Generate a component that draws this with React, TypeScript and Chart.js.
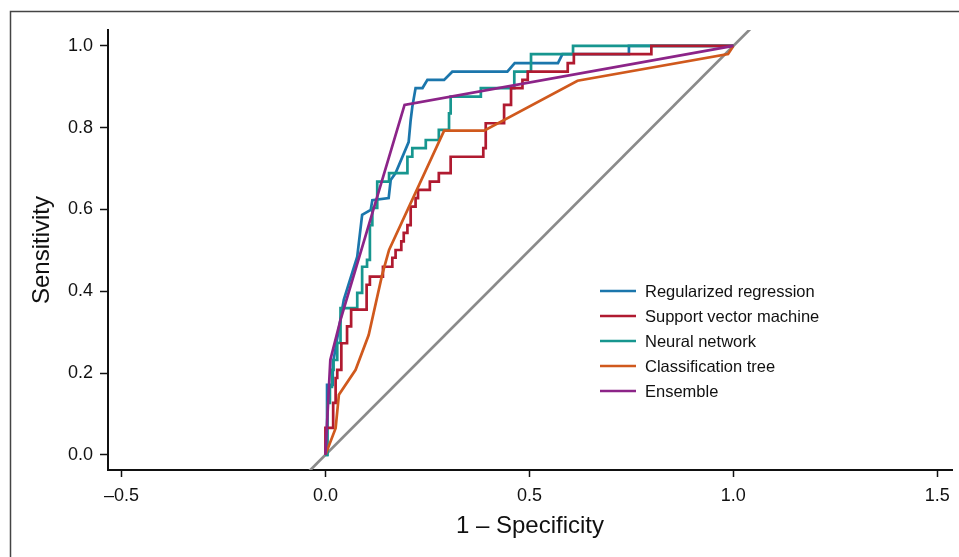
import React, { useEffect, useRef } from "react";
import { Chart, registerables } from "chart.js";

Chart.register(...registerables);

// Series names (legend order)
const seriesLabels = [
  "Regularized regression",
  "Support vector machine",
  "Neural network",
  "Classification tree",
  "Ensemble",
];
const seriesColors = ["#1b76ac", "#b01a30", "#17968f", "#d0591d", "#8c2488"];

// Regularized regression (corner points)
const regX = [0, 0.004, 0.004, 0.018, 0.018, 0.020, 0.045, 0.078, 0.090, 0.111, 0.115, 0.155, 0.160, 0.172, 0.204, 0.209, 0.213, 0.221, 0.238, 0.250, 0.291, 0.311, 0.446, 0.464, 0.570, 0.581, 0.744, 0.744, 1];
const regY = [0, 0, 0.171, 0.171, 0.232, 0.232, 0.379, 0.485, 0.587, 0.599, 0.623, 0.628, 0.672, 0.689, 0.765, 0.819, 0.851, 0.897, 0.897, 0.917, 0.917, 0.937, 0.937, 0.958, 0.958, 0.980, 0.980, 1, 1];

// Support vector machine (step points: x where sensitivity rises, sensitivity after rise)
const svmX = [0, 0, 0.019, 0.025, 0.029, 0.039, 0.053, 0.063, 0.101, 0.109, 0.141, 0.164, 0.172, 0.186, 0.192, 0.201, 0.209, 0.221, 0.227, 0.256, 0.278, 0.307, 0.387, 0.393, 0.438, 0.455, 0.483, 0.496, 0.594, 0.609, 0.799, 1];
const svmY = [0, 0.066, 0.127, 0.188, 0.208, 0.273, 0.314, 0.355, 0.416, 0.436, 0.460, 0.482, 0.501, 0.522, 0.543, 0.562, 0.607, 0.628, 0.648, 0.668, 0.689, 0.729, 0.750, 0.811, 0.856, 0.897, 0.917, 0.937, 0.958, 0.980, 1, 1];

// Neural network (step points)
const nnX = [0, 0.005, 0.011, 0.016, 0.020, 0.029, 0.037, 0.078, 0.090, 0.102, 0.109, 0.115, 0.127, 0.156, 0.201, 0.213, 0.246, 0.278, 0.303, 0.307, 0.381, 0.463, 0.504, 0.607, 1];
const nnY = [0, 0.127, 0.166, 0.208, 0.232, 0.274, 0.359, 0.396, 0.460, 0.477, 0.562, 0.604, 0.668, 0.689, 0.729, 0.750, 0.770, 0.795, 0.835, 0.876, 0.897, 0.937, 0.980, 1, 1];

// Classification tree
const treeX = [0, 0.025, 0.033, 0.074, 0.106, 0.139, 0.156, 0.291, 0.389, 0.618, 0.987, 1];
const treeY = [0, 0.065, 0.147, 0.208, 0.293, 0.440, 0.501, 0.793, 0.793, 0.915, 0.980, 1];

// Ensemble
const ensX = [0, 0.012, 0.037, 0.194, 1];
const ensY = [0, 0.232, 0.330, 0.856, 1];

// Reference diagonal
const diagX = [-0.1, 1.1];
const diagY = [-0.1, 1.1];

const xTicks = [-0.5, 0, 0.5, 1, 1.5];
const yTicks = [0, 0.2, 0.4, 0.6, 0.8, 1];
const xTitle = "1 – Specificity";
const yTitle = "Sensitivity";

const FONT = "'Liberation Sans', Arial, Helvetica, sans-serif";

function pts(xs: number[], ys: number[]) {
  return xs.map((x, i) => ({ x, y: ys[i] }));
}

function fmt(v: number) {
  const s = Math.abs(v).toFixed(1);
  return v < 0 ? "\u2013" + s : s;
}

export default function App() {
  const ref = useRef<HTMLCanvasElement>(null);

  useEffect(() => {
    document.body.style.margin = "0";
    const framePlugin = {
      id: "frame",
      beforeDraw(chart: any) {
        const ctx = chart.ctx;
        ctx.save();
        ctx.fillStyle = "#fff";
        ctx.fillRect(0, 0, chart.width, chart.height);
        ctx.strokeStyle = "#444";
        ctx.lineWidth = 1.5;
        ctx.beginPath();
        ctx.moveTo(10.5, chart.height);
        ctx.lineTo(10.5, 11.5);
        ctx.lineTo(chart.width, 11.5);
        ctx.stroke();
        ctx.restore();
      },
    };
    const legendPlugin = {
      id: "rocLegend",
      afterDatasetsDraw(chart: any) {
        const ctx = chart.ctx;
        ctx.save();
        seriesLabels.forEach((label, i) => {
          const y = 291 + i * 25;
          ctx.strokeStyle = seriesColors[i];
          ctx.lineWidth = 2.7;
          ctx.beginPath();
          ctx.moveTo(600, y);
          ctx.lineTo(636, y);
          ctx.stroke();
          ctx.fillStyle = "#111";
          ctx.font = `16.5px ${FONT}`;
          ctx.textBaseline = "middle";
          ctx.textAlign = "left";
          ctx.fillText(label, 645, y + 1);
        });
        ctx.restore();
      },
    };

    const common = { showLine: true, pointRadius: 0, borderWidth: 2.7, fill: false, tension: 0, borderJoinStyle: "miter" as const };
    const chart = new Chart(ref.current as HTMLCanvasElement, {
      type: "scatter",
      data: {
        datasets: [
          { ...common, label: seriesLabels[0], data: pts(regX, regY), borderColor: seriesColors[0], order: 4 },
          { ...common, label: seriesLabels[1], data: pts(svmX, svmY), borderColor: seriesColors[1], stepped: "before", order: 2 },
          { ...common, label: seriesLabels[2], data: pts(nnX, nnY), borderColor: seriesColors[2], stepped: "before", order: 3 },
          { ...common, label: seriesLabels[3], data: pts(treeX, treeY), borderColor: seriesColors[3], order: 1 },
          { ...common, label: seriesLabels[4], data: pts(ensX, ensY), borderColor: seriesColors[4], order: 0 },
          { ...common, label: "diagonal", data: pts(diagX, diagY), borderColor: "#8a8a8a", order: 5 },
        ] as any,
      },
      options: {
        animation: false,
        responsive: false,
        layout: { padding: { left: 0, right: 7, top: 30, bottom: 0 } },
        plugins: { legend: { display: false }, tooltip: { enabled: false } },
        scales: {
          x: {
            type: "linear",
            min: -0.533,
            max: 1.536,
            afterBuildTicks: (s: any) => {
              s.ticks = xTicks.map((v) => ({ value: v }));
            },
            afterFit: (s: any) => {
              s.height = 87;
            },
            grid: { drawOnChartArea: false, drawTicks: true, tickLength: 7, tickColor: "#111", tickWidth: 1.5 },
            border: { display: true, color: "#111", width: 2 },
            ticks: {
              color: "#111",
              font: { family: FONT, size: 18 },
              padding: 8,
              maxRotation: 0,
              autoSkip: false,
              callback: (v: any) => fmt(Number(v)),
            },
            title: {
              display: true,
              text: xTitle,
              color: "#111",
              font: { family: FONT, size: 24 },
              padding: { top: 0, bottom: 16 },
            },
          },
          y: {
            type: "linear",
            min: -0.037,
            max: 1.039,
            afterBuildTicks: (s: any) => {
              s.ticks = yTicks.map((v) => ({ value: v }));
            },
            afterFit: (s: any) => {
              s.width = 108;
            },
            grid: { drawOnChartArea: false, drawTicks: true, tickLength: 8, tickColor: "#111", tickWidth: 1.5 },
            border: { display: true, color: "#111", width: 2 },
            ticks: {
              color: "#111",
              font: { family: FONT, size: 18 },
              padding: 7,
              autoSkip: false,
              callback: (v: any) => fmt(Number(v)),
            },
            title: {
              display: true,
              text: yTitle,
              color: "#111",
              font: { family: FONT, size: 24 },
              padding: { top: 28, bottom: 0 },
            },
          },
        },
      } as any,
      plugins: [framePlugin, legendPlugin],
    });
    return () => chart.destroy();
  }, []);

  return (
    <div style={{ position: "absolute", left: 0, top: 0, width: 959, height: 557, background: "#fff" }}>
      <canvas ref={ref} width={959} height={557} style={{ display: "block" }} />
    </div>
  );
}
